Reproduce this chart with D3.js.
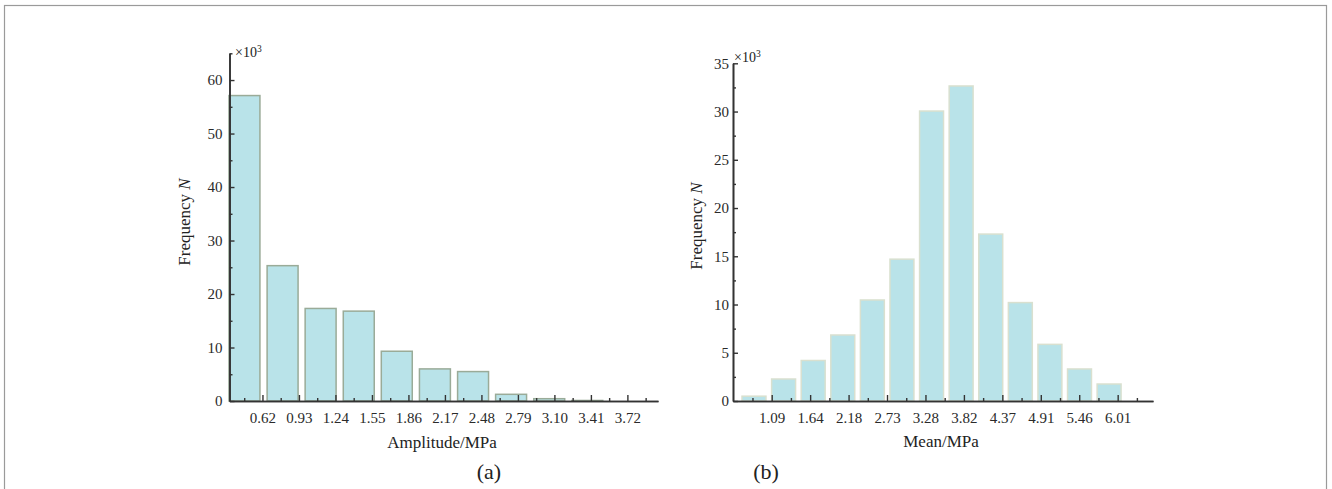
<!DOCTYPE html>
<html>
  <head>
    <meta charset="utf-8" />
    <script src="https://d3js.org/d3.v7.min.js"></script>
    <style>
      body { margin: 0; background: #fff; }
      svg { display: block; }
      text { font-family: "Liberation Serif", "Times New Roman", serif; fill: #222; }
      .axis path, .axis line { stroke: #333; }
      .axis path { stroke-width: 1.6px; }
      .axis line { stroke-width: 1.4px; }
      .axis text { font-size: 15px; font-family: "Liberation Serif", serif; fill: #2a2a2a; }
    </style>
  </head>
  <body>
    <svg id="chart" width="1332" height="489"></svg>
  <script>

  // ---- panel (a): amplitude histogram (values in x10^3) ----
  var ampCenters = [0.467, 0.791, 1.114, 1.438, 1.761, 2.085, 2.409, 2.732, 3.056, 3.379];
  var ampCounts  = [57.1, 25.3, 17.3, 16.8, 9.3, 6.0, 5.5, 1.25, 0.43, 0.1];
  var ampTicks   = [0.62, 0.93, 1.24, 1.55, 1.86, 2.17, 2.48, 2.79, 3.10, 3.41, 3.72];
  var ampLabels  = ["0.62", "0.93", "1.24", "1.55", "1.86", "2.17", "2.48", "2.79", "3.10", "3.41", "3.72"];
  var ampMinor   = [0.465, 0.775, 1.085, 1.395, 1.705, 2.015, 2.325, 2.635, 2.945, 3.255, 3.565, 3.875];
  var ampYTicks  = [0, 10, 20, 30, 40, 50, 60];
  var ampYMinor  = [5, 15, 25, 35, 45, 55, 65];

  // ---- panel (b): mean histogram (values in x10^3) ----
  var meanCenters = [0.84, 1.26, 1.68, 2.10, 2.52, 2.94, 3.36, 3.78, 4.20, 4.62, 5.04, 5.46, 5.88];
  var meanCounts  = [0.5, 2.28, 4.2, 6.84, 10.47, 14.7, 30.05, 32.65, 17.3, 10.2, 5.87, 3.32, 1.76];
  var meanTicks   = [1.0912, 1.6368, 2.1824, 2.728, 3.2736, 3.8192, 4.3648, 4.9104, 5.456, 6.0016];
  var meanLabels  = ["1.09", "1.64", "2.18", "2.73", "3.28", "3.82", "4.37", "4.91", "5.46", "6.01"];
  var meanMinor   = [0.8184, 1.364, 1.9096, 2.4552, 3.0008, 3.5464, 4.092, 4.6376, 5.1832, 5.7288, 6.2744];
  var meanYTicks  = [0, 5, 10, 15, 20, 25, 30, 35];
  var meanYMinor  = [2.5, 7.5, 12.5, 17.5, 22.5, 27.5, 32.5];

  var svg = d3.select("#chart");

  // outer frame of the figure
  svg.append("rect")
    .attr("x", 4.5).attr("y", 5.5)
    .attr("width", 1322).attr("height", 600)
    .attr("fill", "none")
    .attr("stroke", "#9a9a9a")
    .attr("stroke-width", 1.2);

  function drawPanel(p) {
    var g = svg.append("g");
    var x = d3.scaleLinear().domain(p.xDomain).range([p.left, p.right]);
    var y = d3.scaleLinear().domain(p.yDomain).range([p.bottom, p.top]);

    // bars
    g.selectAll(".bar")
      .data(p.counts)
      .enter().append("rect")
      .attr("class", "bar")
      .attr("x", function(d, i) { return x(p.centers[i] - p.barWidth / 2); })
      .attr("width", function(d, i) { return x(p.centers[i] + p.barWidth / 2) - x(p.centers[i] - p.barWidth / 2); })
      .attr("y", function(d) { return y(d); })
      .attr("height", function(d) { return y(0) - y(d); })
      .attr("fill", "#b9e3e9")
      .attr("stroke", p.barStroke)
      .attr("stroke-width", 1.5);

    // x axis: minor then major ticks, pointing inward
    g.append("g").attr("class", "axis")
      .attr("transform", "translate(0," + p.bottom + ")")
      .call(d3.axisBottom(x).tickValues(p.xMinor).tickSizeInner(-3).tickSizeOuter(0).tickFormat(""));
    g.append("g").attr("class", "axis")
      .attr("transform", "translate(0," + p.bottom + ")")
      .call(d3.axisBottom(x).tickValues(p.xTicks).tickSizeInner(-6).tickSizeOuter(0)
        .tickPadding(11).tickFormat(function(d, i) { return p.xLabels[i]; }));

    // y axis
    g.append("g").attr("class", "axis")
      .attr("transform", "translate(" + p.left + ",0)")
      .call(d3.axisLeft(y).tickValues(p.yMinor).tickSizeInner(-3).tickSizeOuter(0).tickFormat(""));
    g.append("g").attr("class", "axis")
      .attr("transform", "translate(" + p.left + ",0)")
      .call(d3.axisLeft(y).tickValues(p.yTicks).tickSizeInner(-5).tickSizeOuter(0)
        .tickPadding(p.yPad).tickFormat(d3.format("d")));

    // x10^3 multiplier
    var m = g.append("text")
      .attr("x", p.multX).attr("y", p.multY)
      .attr("font-size", 14)
      .text("\u00d710");
    m.append("tspan").attr("font-size", 9.5).attr("dy", -5).text("3");

    // y title
    var yt = g.append("text")
      .attr("transform", "translate(" + p.yTitleX + "," + p.yTitleY + ") rotate(-90)")
      .attr("text-anchor", "middle")
      .attr("font-size", 17)
      .text("Frequency ");
    yt.append("tspan").attr("font-style", "italic").text("N");

    // x title
    g.append("text")
      .attr("x", p.xTitleX).attr("y", p.xTitleY)
      .attr("text-anchor", "middle")
      .attr("font-size", 17)
      .text(p.xTitle);

    // panel letter
    g.append("text")
      .attr("x", p.letterX).attr("y", 479)
      .attr("text-anchor", "middle")
      .attr("font-size", 22)
      .text(p.letter);
  }

  drawPanel({
    centers: ampCenters, counts: ampCounts, barWidth: 0.263,
    xTicks: ampTicks, xLabels: ampLabels, xMinor: ampMinor, yTicks: ampYTicks, yMinor: ampYMinor,
    xDomain: [0.34, 3.98], yDomain: [0, 65],
    left: 229.5, right: 658, top: 53.3, bottom: 401,
    barStroke: "#9aab98", yPad: 7,
    multX: 235, multY: 57,
    yTitleX: 190, yTitleY: 222,
    xTitle: "Amplitude/MPa", xTitleX: 442, xTitleY: 448,
    letter: "(a)", letterX: 489
  });

  drawPanel({
    centers: meanCenters, counts: meanCounts, barWidth: 0.34,
    xTicks: meanTicks, xLabels: meanLabels, xMinor: meanMinor, yTicks: meanYTicks, yMinor: meanYMinor,
    xDomain: [0.542, 6.503], yDomain: [0, 35],
    left: 733, right: 1153, top: 63.3, bottom: 401,
    barStroke: "#d9e0cf", yPad: 4,
    multX: 734, multY: 61.5,
    yTitleX: 702, yTitleY: 226,
    xTitle: "Mean/MPa", xTitleX: 941, xTitleY: 447,
    letter: "(b)", letterX: 766
  });

  </script>
  </body>
</html>
